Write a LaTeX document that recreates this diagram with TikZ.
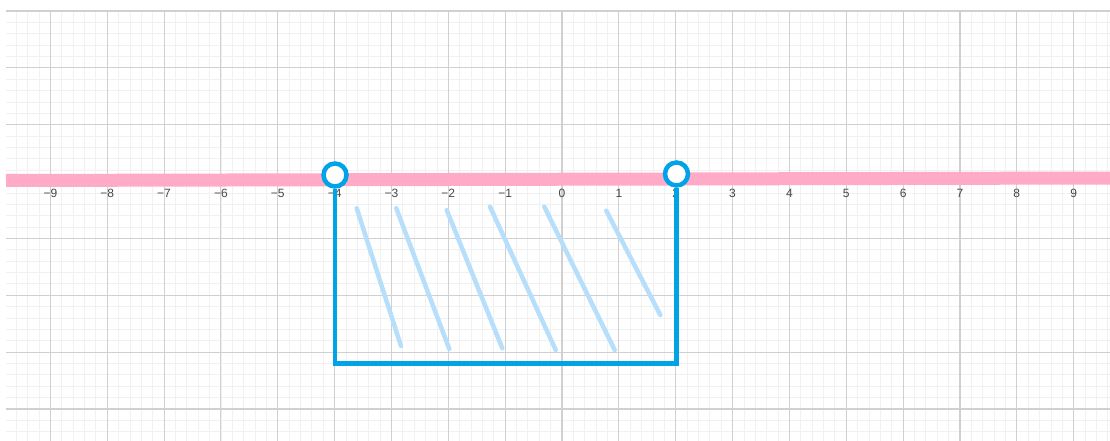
\documentclass[tikz,border=0pt]{standalone}
\usepackage{fontspec}
\setsansfont{Liberation Sans}
\definecolor{gridmajor}{RGB}{208,208,208}
\definecolor{gridminor}{RGB}{241,241,241}
\definecolor{axispink}{RGB}{255,170,198}
\definecolor{setblue}{RGB}{0,163,232}
\definecolor{hatchblue}{RGB}{183,222,250}
\definecolor{ticktext}{RGB}{72,72,72}
\tikzset{
  minorline/.style={draw=gridminor, line width=0.8pt},
  majorline/.style={draw=gridmajor, line width=1.1pt},
  axisband/.style={draw=axispink, line width=13pt},
  ticklabel/.style={text=ticktext, font=\sffamily\fontsize{12}{14}\selectfont, inner sep=0pt, anchor=center},
  hole/.style={circle, draw=setblue, line width=4.5pt, fill=white, minimum size=23pt, inner sep=0pt},
  setline/.style={draw=setblue, line width=4.5pt},
  hatch/.style={draw=hatchblue, line width=4.5pt, line cap=round}
}
\begin{document}
\begin{tikzpicture}[x=1pt, y=-1pt]
\useasboundingbox (0,0) rectangle (1110,441);
\fill[white] (0,0) rectangle (1110,441);

% grid paper: five minor squares per unit
\begin{scope}
  \clip (6,11) rectangle (1110,441);
  \foreach \k in {-50,...,48}
    \draw[minorline] ({562+\k*11.37},11) -- ({562+\k*11.37},441);
  \foreach \k in {0,...,38}
    \draw[minorline] (6,{11+\k*11.37}) -- (1110,{11+\k*11.37});
  \foreach \k in {-10,...,10}
    \draw[majorline] ({562+\k*56.85},11) -- ({562+\k*56.85},441);
  \foreach \k in {0,...,7}
    \draw[majorline] (6,{11+\k*56.85}) -- (1110,{11+\k*56.85});
\end{scope}

% number line
\coordinate (axl) at (6,180.5);
\coordinate (axr) at (1110,178);
\draw[axisband] (axl) -- (axr);

% tick labels
\foreach \n/\t in {-9/−9,-8/−8,-7/−7,-6/−6,-5/−5,-4/−4,-3/−3,-2/−2,-1/−1,0/0,1/1,2/2,3/3,4/4,5/5,6/6,7/7,8/8,9/9}
  \node[ticklabel] (t\n) at ({562+\n*56.85},193.5) {\t};

% hatching of the solution region
\draw[hatch] (356.7,208.3) -- (401,346);
\draw[hatch] (396.3,208.3) -- (449.3,349);
\draw[hatch] (446.7,210) -- (502.3,348.3);
\draw[hatch] (490,206.7) -- (555.7,350);
\draw[hatch] (544.3,206.7) -- (614.7,350);
\draw[hatch] (606.3,210.7) -- (660.3,315);

% open end points and the bracket joining them
\node[hole] (lo) at (335,175) {};
\node[hole] (hi) at (676.5,174) {};
\coordinate (bl) at (335,363.5);
\coordinate (br) at (676.5,363.5);
\draw[setline] (lo.south) -- (bl) -- (br) -- (hi.south);
\end{tikzpicture}
\end{document}
